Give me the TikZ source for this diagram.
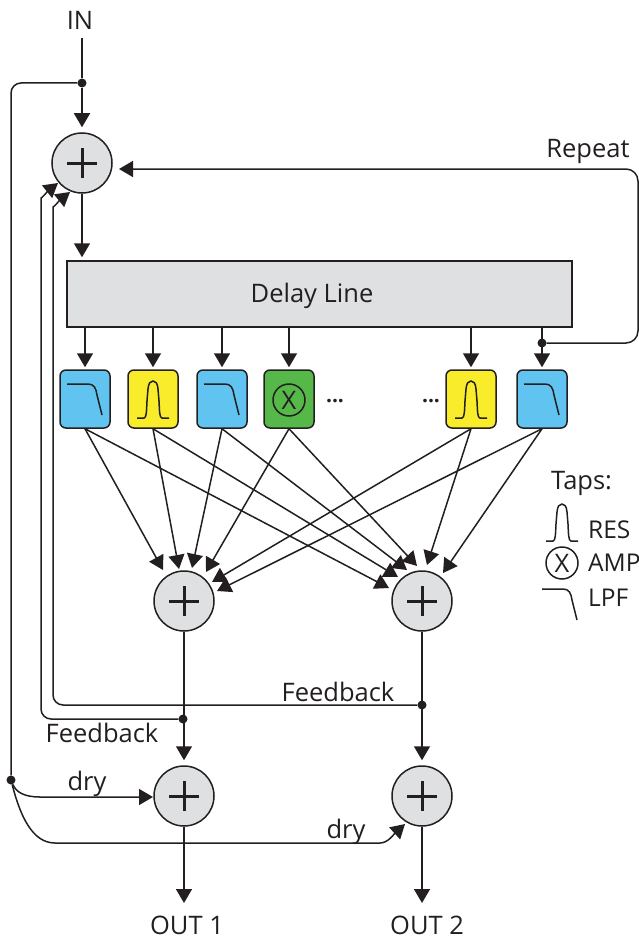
\documentclass[tikz,border=0pt]{standalone}
\usepackage{fontspec}
\setmainfont{Open Sans}
\usetikzlibrary{arrows.meta}

\definecolor{sumgray}{HTML}{DFE0E2}
\definecolor{lpfblue}{HTML}{61C4F0}
\definecolor{resyellow}{HTML}{F9ED2B}
\definecolor{ampgreen}{HTML}{55B848}
\definecolor{inkblack}{HTML}{231F20}

\tikzset{
  flow/.style={draw=inkblack, line width=1.5pt, -{Triangle[length=14pt,width=16pt]}},
  wire/.style={draw=inkblack, line width=1.5pt},
  tapline/.style={flow, shorten >=5pt},
  sumnode/.style={circle, draw=inkblack, line width=1.5pt, fill=sumgray, minimum size=60pt, inner sep=0pt,
    path picture={
      \draw[line width=3pt, inkblack] (path picture bounding box.center) +(-15,0) -- +(15,0);
      \draw[line width=3pt, inkblack] (path picture bounding box.center) +(0,-15) -- +(0,15);
    }},
  tapbox/.style={rectangle, rounded corners=6pt, draw=inkblack, line width=1.5pt, minimum width=50pt, minimum height=58pt, inner sep=0pt},
  junction/.style={circle, fill=inkblack, minimum size=9pt, inner sep=0pt},
  txt/.style={font=\fontsize{25.5}{26}\selectfont, text=inkblack, inner sep=0pt},
  legendtxt/.style={txt, anchor=west, font=\fontsize{24.5}{26}\selectfont},
  ampmark/.style={circle, draw=inkblack, line width=1.5pt, minimum size=32pt, inner sep=0pt, font=\fontsize{25.5}{26}\selectfont, text=inkblack},
  lpfcurve/.pic={\draw[line width=1.5pt, inkblack] (-18,-15) -- (3,-15) .. controls (9,-15) and (11,-11) .. (12,-4) -- (17,16);},
  rescurve/.pic={\draw[line width=1.5pt, inkblack] (-16,19) -- (-9,19) .. controls (-6.5,19) and (-6.5,12) .. (-6,2) -- (-5,-10) .. controls (-4.5,-16) and (-2.5,-18) .. (0,-18) .. controls (2.5,-18) and (4.5,-16) .. (5,-10) -- (6,2) .. controls (6.5,12) and (6.5,19) .. (9,19) -- (16,19);},
}

\begin{document}
\begin{tikzpicture}[x=1pt, y=-1pt]
\useasboundingbox (0,0) rectangle (639,939);

% sums
\node[sumnode] (s1) at (82,163) {};
\node[sumnode] (s2) at (184,601) {};
\node[sumnode] (s3) at (422,601) {};
\node[sumnode] (s4) at (184,796) {};
\node[sumnode] (s5) at (422,796) {};

% delay line
\node[rectangle, draw=inkblack, line width=1.5pt, fill=sumgray, minimum width=505pt, minimum height=66pt, inner sep=0pt] (delay) at (319.5,294) {};
\node[txt] (delaytxt) at (312,296) {Delay Line};

% taps
\node[tapbox, fill=lpfblue] (t1) at (85,399) {};
\node[tapbox, fill=resyellow] (t2) at (153,399) {};
\node[tapbox, fill=lpfblue] (t3) at (222,399) {};
\node[tapbox, fill=ampgreen] (t4) at (289,399) {};
\node[tapbox, fill=resyellow] (t5) at (471,399) {};
\node[tapbox, fill=lpfblue] (t6) at (542,399) {};
\pic at (t1) {lpfcurve};
\pic at (t2) {rescurve};
\pic at (t3) {lpfcurve};
\node[ampmark] (x4) at (289,400) {X};
\pic at (t5) {rescurve};
\pic at (t6) {lpfcurve};
\node[txt] (dots1) at (335,401) {\fontsize{21}{21}\selectfont\bfseries ...};
\node[txt] (dots2) at (431,401) {\fontsize{21}{21}\selectfont\bfseries ...};

% labels
\node[txt] (in) at (80,20) {IN};
\node[txt] (out1) at (187,925) {OUT 1};
\node[txt] (out2) at (427,925) {OUT 2};
\node[txt] (repeat) at (588,151) {Repeat};
\node[txt] (fb1) at (102,733) {Feedback};
\node[txt] (fb2) at (338,692) {Feedback};
\node[txt] (dry1) at (87,784) {dry};
\node[txt] (dry2) at (346,832) {dry};

% junctions
\node[junction] (d1) at (82,83) {};
\node[junction] (d2) at (542,343) {};
\node[junction] (d3) at (183,719) {};
\node[junction] (d4) at (422,705) {};
\node[junction] (d5) at (11,780) {};

\coordinate (r1) at (638,343);
\coordinate (r2) at (638,169);
\coordinate (r3) at (119,169);
\coordinate (a1) at (11,83);
\coordinate (f1) at (41,719);
\coordinate (f2) at (41,208);
\coordinate (f3) at (58,183);
\coordinate (g1) at (53,705);
\coordinate (g2) at (53,217);
\coordinate (g3) at (70,192);
\coordinate (e1) at (405,824);
% arrow tips at the sums
\coordinate (h1) at (163,570);
\coordinate (h2) at (179,569);
\coordinate (h3) at (192,568);
\coordinate (h4) at (206,572);
\coordinate (h5) at (212,582);
\coordinate (h6) at (217,591);
\coordinate (k1) at (389,588);
\coordinate (k2) at (398,577);
\coordinate (k3) at (407,570);
\coordinate (k4) at (417,566);
\coordinate (k5) at (427,565);
\coordinate (k6) at (443,573);

% input and delay
\draw[wire] (in) ++(2,18) -- (d1);
\draw[tapline] (d1) -- (s1);
\draw[wire, rounded corners=10pt] (d1) -- (a1) -- (d5);
\draw[flow, shorten >=3pt] (s1) -- (s1 |- delay.north);
\draw[flow, shorten >=2pt] (t1 |- delay.south) -- (t1);
\draw[flow, shorten >=2pt] (t2 |- delay.south) -- (t2);
\draw[flow, shorten >=2pt] (t3 |- delay.south) -- (t3);
\draw[flow, shorten >=2pt] (t4 |- delay.south) -- (t4);
\draw[flow, shorten >=2pt] (t5 |- delay.south) -- (t5);
\draw[flow, shorten >=2pt] (t6 |- delay.south) -- (t6);

% repeat and feedback
\draw[flow, rounded corners=12pt] (d2) -- (r1) -- (r2) -- (r3);
\draw[flow, rounded corners=10pt] (d3) -- (f1) -- (f2) .. controls (41,199) and (48,191) .. (f3);
\draw[flow, rounded corners=10pt] (d4) -- (g1) -- (g2) .. controls (53,208) and (60,200) .. (g3);

% taps to sums
\draw[flow] (t1.south) -- (h1);
\draw[flow] (t2.south) -- (h2);
\draw[flow] (t3.south) -- (h3);
\draw[flow] (t4.south) -- (h4);
\draw[flow] (t5.south) -- (h5);
\draw[flow] (t6.south) -- (h6);
\draw[flow] (t1.south) -- (k1);
\draw[flow] (t2.south) -- (k2);
\draw[flow] (t3.south) -- (k3);
\draw[flow] (t4.south) -- (k4);
\draw[flow] (t5.south) -- (k5);
\draw[flow] (t6.south) -- (k6);

% outputs
\draw[tapline] (s2) -- (s4);
\draw[tapline] (s3) -- (s5);
\draw[flow] (s4) -- (s4 |- 0,903);
\draw[flow] (s5) -- (s5 |- 0,903);

% dry
\draw[flow] (d5) .. controls (16,792) and (24,797) .. (40,797) -- (153,797);
\draw[flow] (d5) .. controls (20,815) and (32,843) .. (55,843) -- (380,843) .. controls (388,843) and (394,834) .. (e1);

% legend
\node[txt, anchor=west] (taps) at (551,483) {Taps:};
\pic at (562,522) {rescurve};
\node[legendtxt] (res) at (588,530) {RES};
\node[ampmark] (xleg) at (562,563) {X};
\node[legendtxt] (amp) at (588,563) {AMP};
\pic at (560,604) {lpfcurve};
\node[legendtxt] (lpf) at (588,598) {LPF};
\end{tikzpicture}
\end{document}
